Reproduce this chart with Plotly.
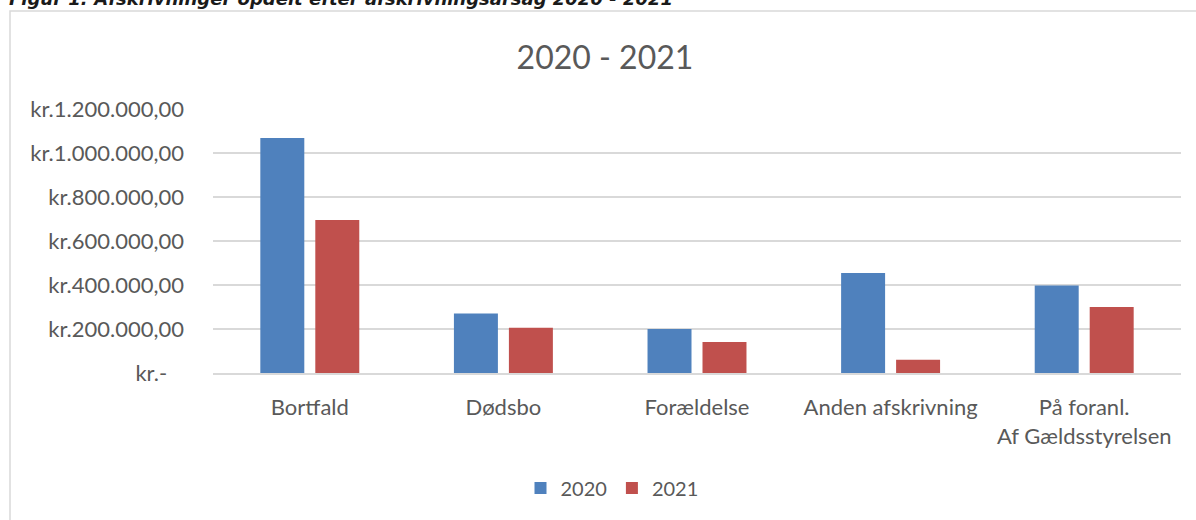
import plotly.graph_objects as go

categories = ["Bortfald", "Dødsbo", "Forældelse", "Anden afskrivning", "På foranl.<br>Af Gældsstyrelsen"]
values_2020 = [1068000, 270000, 200000, 455000, 398000]
values_2021 = [695000, 206000, 141000, 60000, 300000]
series_names = ["2020", "2021"]
tick_vals = [0, 200000, 400000, 600000, 800000, 1000000, 1200000]
tick_text = ["kr.-\u00a0\u00a0\u00a0", "kr.200.000,00", "kr.400.000,00", "kr.600.000,00",
             "kr.800.000,00", "kr.1.000.000,00", "kr.1.200.000,00"]
title_text = "2020 - 2021"
caption_text = "Figur 1: Afskrivninger opdelt efter afskrivningsårsag 2020 - 2021"

W, H = 1196, 520
ml, mr, mt, mb = 213, 15, 109, 147
font = "Lato"
grey = "#595959"

fig = go.Figure()
fig.add_trace(go.Bar(x=categories, y=values_2020, name=series_names[0], marker_color="#4F81BD",
                     marker_line_width=0))
fig.add_trace(go.Bar(x=categories, y=values_2021, name=series_names[1], marker_color="#C0504D",
                     marker_line_width=0))

pw = W - ml - mr
ph = H - mt - mb
def px2x(px):
    return (px - ml) / pw
def py2y(py):
    return (H - mb - py) / ph

fig.update_layout(
    width=W, height=H,
    margin=dict(l=ml, r=mr, t=mt, b=mb, autoexpand=False),
    paper_bgcolor="white", plot_bgcolor="white",
    font=dict(family=font, size=20, color=grey),
    barmode="group", bargap=0.432, bargroupgap=0.2,
    title=dict(text=title_text, x=605 / W, xref="container", xanchor="center",
               y=1 - 58 / H, yref="container", yanchor="middle",
               font=dict(family=font, size=32, color=grey)),
    legend=dict(orientation="h", x=612 / W, xref="container", xanchor="center",
                y=1 - 488 / H, yref="container", yanchor="middle",
                font=dict(family=font, size=20, color=grey), itemwidth=30,
                traceorder="normal"),
    showlegend=True,
    hovermode=False,
)
fig.update_yaxes(range=[0, 1200000], tickvals=tick_vals, ticktext=tick_text,
                 showgrid=True, gridcolor="#D9D9D9", gridwidth=1.5, zeroline=False,
                 showline=False, ticks="", ticklabelstandoff=28,
                 tickfont=dict(family=font, size=22, color=grey))
fig.update_xaxes(showline=True, linecolor="#D9D9D9", linewidth=1.5, ticks="",
                 ticklabelstandoff=14, tickfont=dict(family=font, size=22, color=grey))

# chart border (Excel chart area frame)
fig.add_shape(type="rect", xref="paper", yref="paper",
              x0=px2x(10), x1=px2x(1300), y0=py2y(700), y1=py2y(11),
              line=dict(color="#D9D9D9", width=1.5), fillcolor="rgba(0,0,0,0)", layer="below")

fig.add_annotation(text="<b><i>" + caption_text + "</i></b>", xref="paper", yref="paper",
                   x=px2x(7), y=py2y(-1), xanchor="left", yanchor="middle", showarrow=False,
                   font=dict(family="DejaVu Sans", size=18, color="#1a1a1a"))

fig.write_html("out.html", config={"displayModeBar": False},
               post_script="document.body.style.margin='0';document.body.style.overflow='hidden';")
